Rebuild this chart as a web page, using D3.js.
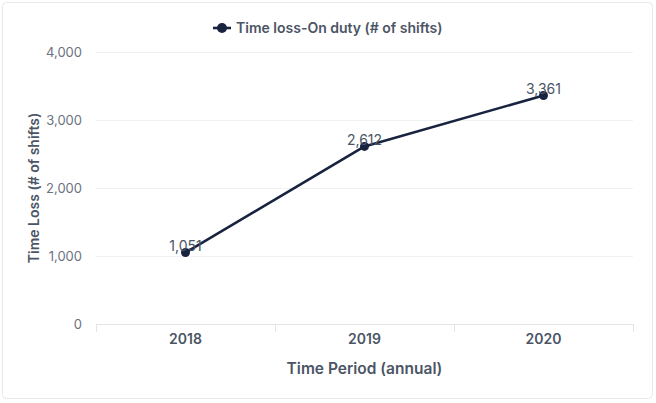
<!DOCTYPE html>
<html><head><meta charset="utf-8">
<script src="https://cdn.jsdelivr.net/npm/d3@7"></script>
<style>
html,body{margin:0;padding:0;background:#fff;}
svg{display:block;font-family:Inter,"Noto Sans",sans-serif;}
</style></head><body>
<svg id="chart" width="656" height="403"></svg>
<script>
const categories = ["2018","2019","2020"];
const seriesName = "Time loss-On duty (# of shifts)";
const values = [1051, 2612, 3361];
const yTicks = [0, 1000, 2000, 3000, 4000];

const svg = d3.select("#chart");
const W = 656, H = 403;
const m = {left: 96, right: 23, top: 52, bottom: 79};

svg.append("rect").attr("x",2.5).attr("y",2.5).attr("width",650).attr("height",396)
  .attr("rx",4).attr("fill","#fff").attr("stroke","#e6e8eb");

const x = d3.scaleBand().domain(categories).range([m.left, W - m.right]);
const y = d3.scaleLinear().domain([0, 4000]).range([H - m.bottom, m.top]);

// grid
svg.append("g").selectAll("line").data(yTicks).join("line")
  .attr("x1", m.left).attr("x2", W - m.right)
  .attr("y1", d => y(d) + 0.5).attr("y2", d => y(d) + 0.5)
  .attr("stroke", d => d === 0 ? "#e3e5e8" : "#f0f1f3").attr("stroke-width", 1);

// y axis labels
const yAxis = d3.axisLeft(y).tickValues(yTicks).tickFormat(d3.format(",")).tickSize(0).tickPadding(14);
const gy = svg.append("g").attr("transform", `translate(${m.left},0)`).call(yAxis);
gy.select(".domain").remove();
gy.selectAll("text").attr("fill", "#6b7280").style("font-size", "13px").style("font-family", "Inter");

// x axis
const xAxis = d3.axisBottom(x).tickSize(0).tickPadding(10);
const gx = svg.append("g").attr("transform", `translate(0,${y(0)})`).call(xAxis);
gx.select(".domain").remove();
gx.selectAll("text").attr("fill", "#4b5565").style("font-size", "14px").style("font-weight", "600").style("font-family", "Inter");
// band boundary ticks
const bounds = categories.map(c => x(c)).concat([x(categories[categories.length-1]) + x.bandwidth()]);
svg.append("g").selectAll("line").data(bounds).join("line")
  .attr("x1", d => Math.round(d) + 0.5).attr("x2", d => Math.round(d) + 0.5)
  .attr("y1", y(0)).attr("y2", y(0) + 8).attr("stroke", "#e3e5e8");

// axis titles
svg.append("text").attr("x", (m.left + W - m.right) / 2).attr("y", 374)
  .attr("text-anchor", "middle").attr("fill", "#4b5565")
  .style("font-size", "15.5px").style("font-weight", "600").text("Time Period (annual)");
svg.append("text").attr("transform", `translate(39,${(y(0)+y(4000))/2}) rotate(-90)`)
  .attr("text-anchor", "middle").attr("fill", "#4b5565")
  .style("font-size", "14px").style("font-weight", "600").text("Time Loss (# of shifts)");

// line
const cx = c => x(c) + x.bandwidth() / 2;
const line = d3.line().x((d, i) => cx(categories[i])).y(d => y(d));
svg.append("path").datum(values).attr("d", line).attr("fill", "none")
  .attr("stroke", "#18233f").attr("stroke-width", 2.6).attr("stroke-linejoin", "round");
svg.append("g").selectAll("circle").data(values).join("circle")
  .attr("cx", (d, i) => cx(categories[i])).attr("cy", d => y(d)).attr("r", 4.5).attr("fill", "#18233f");
svg.append("g").selectAll("text").data(values).join("text")
  .attr("x", (d, i) => cx(categories[i])).attr("y", d => y(d) - 1.5)
  .attr("text-anchor", "middle").attr("fill", "#4b5565")
  .style("font-size", "14px").text(d => d3.format(",")(d));

// legend
const lg = svg.append("g").attr("transform", "translate(0,28)");
lg.append("line").attr("x1", 213).attr("x2", 231).attr("y1", 0).attr("y2", 0).attr("stroke", "#18233f").attr("stroke-width", 2.6);
lg.append("circle").attr("cx", 222).attr("cy", 0).attr("r", 5).attr("fill", "#18233f");
lg.append("text").attr("x", 236).attr("y", 5).attr("fill", "#4b5565")
  .style("font-size", "14px").style("font-weight", "600").text(seriesName);
</script>
</body></html>
